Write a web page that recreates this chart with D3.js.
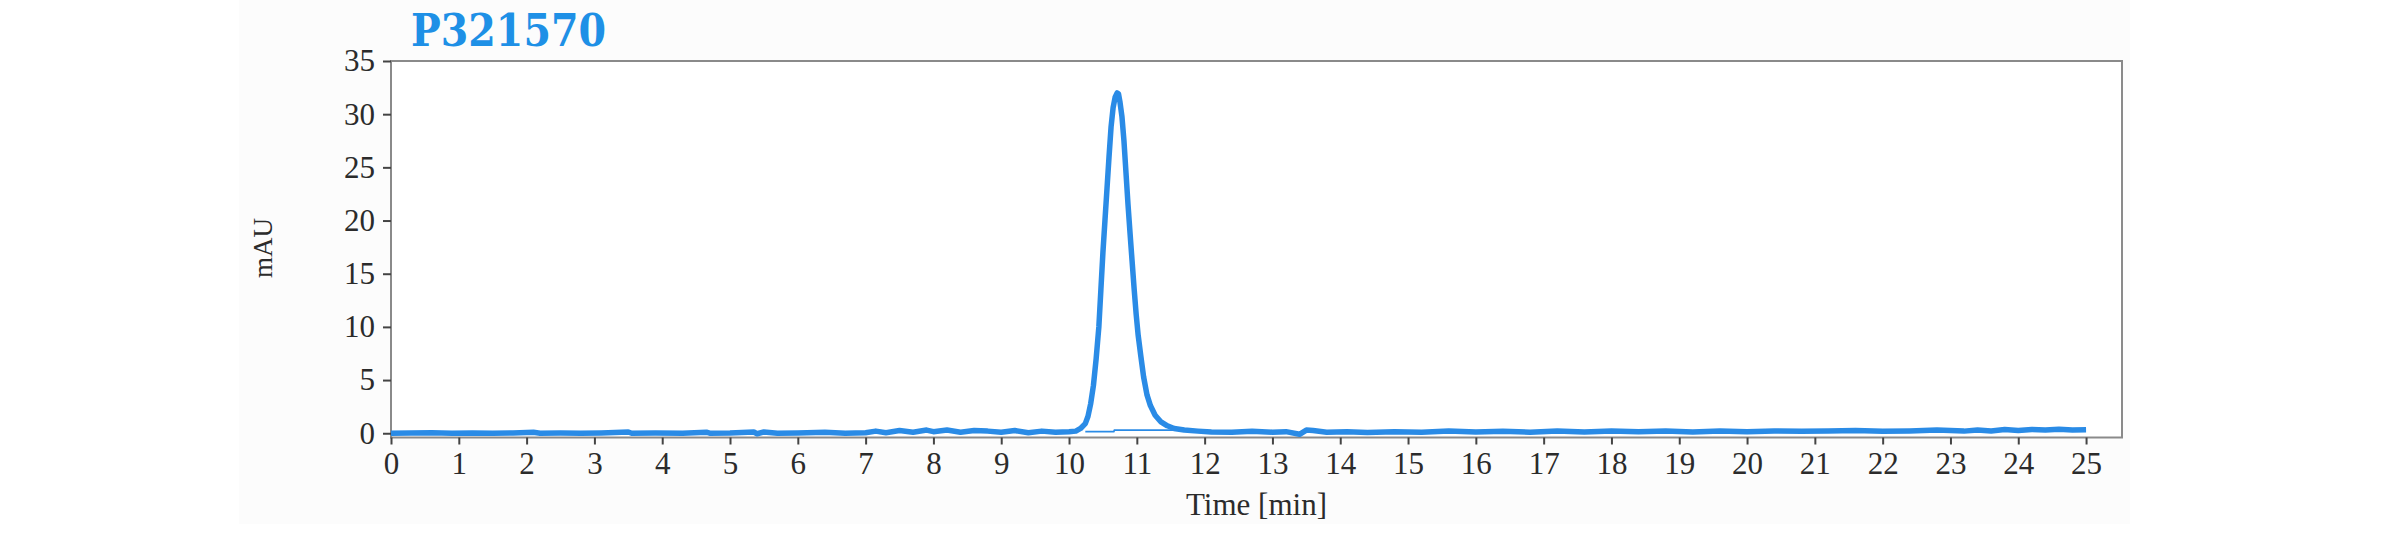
<!DOCTYPE html>
<html>
<head>
<meta charset="utf-8">
<script src="https://cdn.jsdelivr.net/npm/d3@7"></script>
<style>
  body { margin: 0; background: #fff; }
</style>
</head>
<body>
<svg id="container"></svg>
<script>
// chromatogram readings, time in min and absorbance in mAU
const title = "P321570";
const times = [0.0, 0.3, 0.6, 0.9, 1.2, 1.5, 1.8, 2.1, 2.2, 2.5, 2.8, 3.1, 3.5, 3.55, 3.9, 4.3, 4.65, 4.7, 5.0, 5.35, 5.4, 5.5, 5.7, 6.0, 6.4, 6.7, 7.0, 7.15, 7.3, 7.5, 7.7, 7.9, 8.0, 8.2, 8.4, 8.6, 8.8, 9.0, 9.2, 9.4, 9.6, 9.8,
  10.0, 10.1, 10.17, 10.24, 10.28, 10.32, 10.36, 10.4, 10.44, 10.47, 10.5, 10.53, 10.56, 10.59, 10.62, 10.65, 10.68, 10.71, 10.73, 10.75, 10.78, 10.81, 10.84, 10.87, 10.9, 10.93, 10.96, 10.99, 11.02, 11.06, 11.1, 11.15, 11.2, 11.27, 11.35, 11.45, 11.55, 11.7, 11.9,
  12.1, 12.4, 12.7, 13.0, 13.2, 13.4, 13.5, 13.6, 13.8, 14.1, 14.4, 14.8, 15.2, 15.6, 16.0, 16.4, 16.8, 17.2, 17.6, 18.0, 18.4, 18.8, 19.2, 19.6, 20.0, 20.4, 20.8, 21.2, 21.6, 22.0, 22.4, 22.8, 23.2, 23.4, 23.6, 23.8, 24.0, 24.2, 24.4, 24.6, 24.8, 25.0];
const mAU = [0.0, 0.02, 0.05, 0.0, 0.03, 0.0, 0.02, 0.1, 0.0, 0.02, 0.0, 0.03, 0.12, 0.0, 0.02, 0.0, 0.1, 0.0, 0.03, 0.12, -0.05, 0.12, 0.0, 0.03, 0.1, 0.0, 0.05, 0.2, 0.05, 0.25, 0.1, 0.3, 0.15, 0.3, 0.1, 0.25, 0.2, 0.1, 0.25, 0.05, 0.2, 0.1,
  0.15, 0.2, 0.45, 0.9, 1.6, 2.8, 4.5, 7.0, 10.0, 13.5, 17.0, 20.0, 23.0, 26.0, 28.8, 30.6, 31.6, 32.0, 31.9, 31.2, 29.8, 27.5, 24.5, 21.5, 18.8, 16.2, 13.6, 11.2, 9.2, 7.2, 5.3, 3.6, 2.6, 1.7, 1.1, 0.7, 0.45, 0.3, 0.2,
  0.12, 0.1, 0.18, 0.1, 0.15, -0.1, 0.3, 0.25, 0.1, 0.15, 0.08, 0.15, 0.1, 0.2, 0.12, 0.18, 0.1, 0.2, 0.12, 0.2, 0.15, 0.22, 0.12, 0.2, 0.15, 0.22, 0.18, 0.2, 0.25, 0.18, 0.22, 0.3, 0.2, 0.3, 0.22, 0.35, 0.25, 0.35, 0.3, 0.38, 0.3, 0.32];
// integration baseline under the peak
const baseTimes = [10.24, 10.66, 10.67, 11.55];
const baseValues = [0.15, 0.15, 0.3, 0.3];
const yTicks = [0, 5, 10, 15, 20, 25, 30, 35];
const xTicks = d3.range(0, 26);

let width = 2382, height = 539;
var margin = {top: 61, right: 260, bottom: 101.5, left: 391};

let svg = d3.select("#container")
    .attr("width", width)
    .attr("height", height);

// faint panel behind the chart
svg.append("rect")
    .attr("x", 239).attr("y", 0)
    .attr("width", 2130 - 239).attr("height", 524)
    .attr("fill", "#fcfcfc");

const xScale = d3.scaleLinear()
    .domain([0, 25.53])
    .range([margin.left, width - margin.right]);

const yScale = d3.scaleLinear()
    .domain([-0.4, 35])
    .range([height - margin.bottom, margin.top]);

// plot frame
svg.append("rect")
    .attr("x", xScale(0))
    .attr("y", yScale(35))
    .attr("width", xScale(25.53) - xScale(0))
    .attr("height", yScale(-0.4) - yScale(35))
    .attr("fill", "#fff")
    .attr("stroke", "#8a8a8a")
    .attr("stroke-width", 2);

const labelFont = "'Liberation Serif', 'Times New Roman', serif";

// y axis
let yAxis = svg.append("g")
    .attr("transform", "translate(" + xScale(0) + ",0)")
    .call(d3.axisLeft(yScale).tickValues(yTicks).tickSize(8).tickPadding(8));
yAxis.select(".domain").remove();

// x axis
let xAxis = svg.append("g")
    .attr("transform", "translate(0," + yScale(-0.4) + ")")
    .call(d3.axisBottom(xScale).tickValues(xTicks).tickSize(7).tickPadding(7));
xAxis.select(".domain").remove();

svg.selectAll(".tick line").attr("stroke", "#444").attr("stroke-width", 2);
svg.selectAll(".tick text")
    .style("font-family", labelFont)
    .style("font-size", "31px")
    .attr("fill", "#2b2b2b");

const line = d3.line()
    .x(d => xScale(d[0]))
    .y(d => yScale(d[1]));

// thin baseline drawn first so the trace sits on top
svg.append("path")
    .datum(baseTimes.map((t, i) => [t, baseValues[i]]))
    .attr("d", line)
    .attr("fill", "none")
    .attr("stroke", "#2a8be6")
    .attr("stroke-width", 1.8);

svg.append("path")
    .datum(times.map((t, i) => [t, mAU[i]]))
    .attr("d", line)
    .attr("fill", "none")
    .attr("stroke", "#2a8be6")
    .attr("stroke-width", 5.5)
    .attr("stroke-linejoin", "round");

// title
svg.append("text")
    .attr("x", 411)
    .attr("y", 46)
    .style("font-family", "'DejaVu Serif Condensed', 'DejaVu Serif', serif")
    .style("font-weight", "bold")
    .style("font-size", "44px")
    .attr("fill", "#1e90e6")
    .text(title);

// axis titles
svg.append("text")
    .attr("transform", "translate(272,248) rotate(-90)")
    .attr("text-anchor", "middle")
    .style("font-family", labelFont)
    .style("font-size", "27px")
    .attr("fill", "#2b2b2b")
    .text("mAU");

svg.append("text")
    .attr("x", (xScale(0) + xScale(25.53)) / 2)
    .attr("y", 515)
    .attr("text-anchor", "middle")
    .style("font-family", labelFont)
    .style("font-size", "31px")
    .attr("fill", "#2b2b2b")
    .text("Time [min]");
</script>
</body>
</html>
